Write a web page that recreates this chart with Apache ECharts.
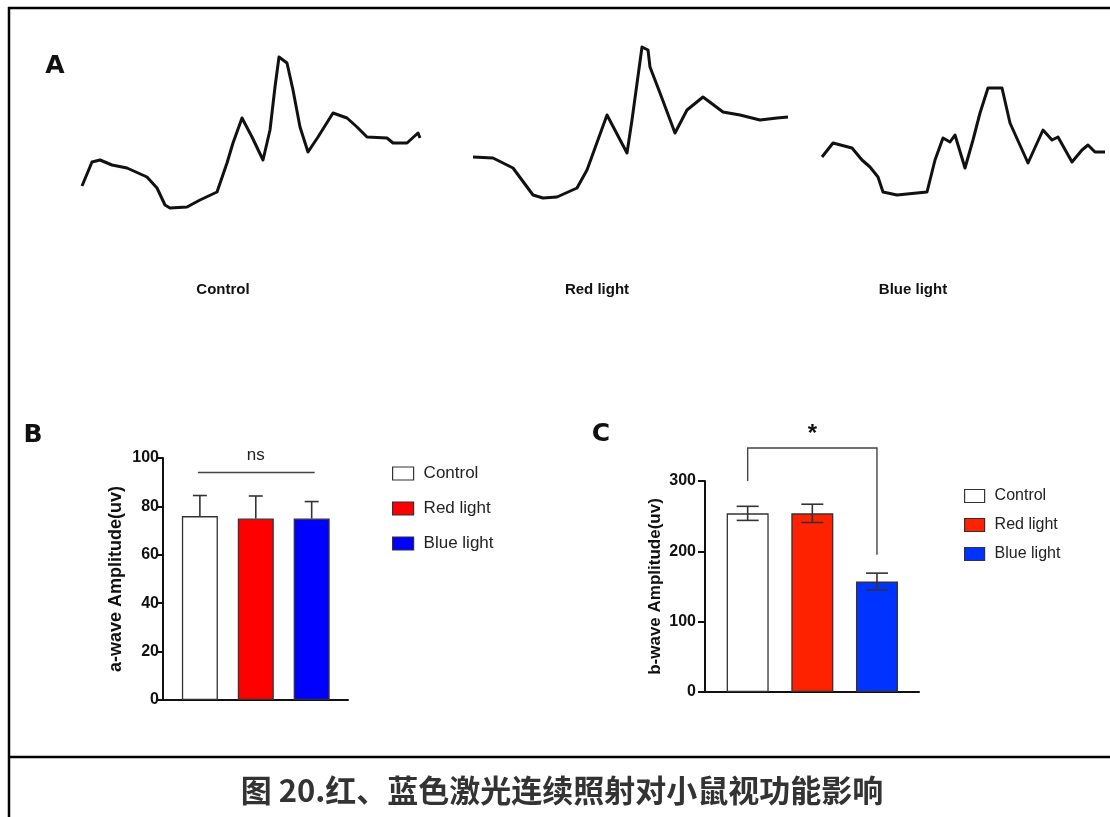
<!DOCTYPE html>
<html>
<head>
<meta charset="utf-8">
<script src="https://cdn.jsdelivr.net/npm/echarts@6/dist/echarts.min.js"></script>
<style>
  html, body { margin: 0; padding: 0; background: #fff; }
  #main { width: 1110px; height: 817px; }
</style>
</head>
<body>
<div id="main"></div>
<script>
'use strict';

// groups
var groups = ['Control', 'Red light', 'Blue light'];

// a-wave / b-wave amplitude (uv), mean and error
var aWaveMean = [76, 75, 75];
var aWaveErr = [8.5, 9.3, 7];
var bWaveMean = [254, 254, 157];
var bWaveErr = [10, 13, 12];

// ERG traces: [time, amplitude]
var controlTrace = [
  [0, 34], [1, 36], [10, 58], [18, 60], [30, 55], [45, 52], [65, 43], [75, 32],
  [83, 15], [88, 12], [105, 13], [118, 20], [135, 28], [145, 57], [151, 77],
  [160, 102], [170, 83], [181, 60], [188, 90], [193, 133], [197, 163], [205, 157],
  [211, 130], [218, 93], [226, 68], [236, 83], [251, 107], [265, 102], [275, 93],
  [285, 83], [305, 82], [311, 77], [325, 77], [336, 87], [338, 82]
];
var redTrace = [
  [2, 63], [22, 62], [42, 52], [62, 25], [72, 22], [86, 23], [106, 32], [116, 50],
  [136, 105], [156, 67], [161, 100], [171, 173], [177, 170], [179, 153], [189, 127],
  [204, 87], [216, 110], [232, 123], [252, 108], [269, 105], [289, 100], [306, 102],
  [317, 103]
];
var blueTrace = [
  [2, 63], [13, 77], [32, 72], [42, 60], [50, 53], [58, 43], [63, 28], [77, 25],
  [107, 28], [115, 60], [123, 82], [130, 78], [135, 85], [145, 52], [153, 80],
  [160, 107], [168, 132], [182, 132], [190, 97], [208, 57], [223, 90], [232, 80],
  [238, 83], [252, 58], [262, 70], [268, 75], [275, 68], [285, 68]
];

var colorsB = ['#ffffff', '#ff0000', '#0000ff'];
var colorsC = ['#ffffff', '#ff2200', '#0033ff'];

var narrow = "'Liberation Sans Narrow', 'Liberation Sans', Arial, sans-serif";
var ink = '#111';

var chartDom = document.getElementById('main');
var myChart = echarts.init(chartDom, null, { renderer: 'canvas' });

function traceAxes(n, width) {
  var xs = [], ys = [];
  for (var i = 0; i < n; i++) {
    xs.push({ type: 'value', gridIndex: i, min: 0, max: width[i], show: false });
    ys.push({ type: 'value', gridIndex: i, min: 0, max: 180, show: false });
  }
  return { xs: xs, ys: ys };
}

function traceSeries(data, idx) {
  return {
    type: 'line',
    xAxisIndex: idx,
    yAxisIndex: idx,
    data: data,
    showSymbol: false,
    silent: true,
    lineStyle: { color: ink, width: 3, join: 'round' }
  };
}

// groups sit at x = 0, 1, 2 on a plain value axis
function barSeries(idx, means, colors, width) {
  return groups.map(function (g, i) {
    return {
      type: 'bar',
      name: g,
      xAxisIndex: idx,
      yAxisIndex: idx,
      barWidth: width,
      barGap: '-100%',
      silent: true,
      data: [[i, means[i]]],
      itemStyle: { color: colors[i], borderColor: '#333', borderWidth: 1.3 }
    };
  });
}

function errorSeries(idx, means, errs, capHalf, twoSided) {
  return {
    type: 'custom',
    xAxisIndex: idx,
    yAxisIndex: idx,
    silent: true,
    clip: false,
    z: 5,
    encode: { x: 0, y: 1 },
    data: means.map(function (m, i) { return [i, m, errs[i]]; }),
    renderItem: function (params, api) {
      var i = api.value(0), m = api.value(1), e = api.value(2);
      var top = api.coord([i, m + e]);
      var bot = api.coord([i, twoSided ? m - e : m]);
      var st = { stroke: '#333', lineWidth: 1.6 };
      var children = [
        { type: 'line', shape: { x1: top[0], y1: top[1], x2: bot[0], y2: bot[1] }, style: st },
        { type: 'line', shape: { x1: top[0] - capHalf, y1: top[1], x2: top[0] + capHalf, y2: top[1] }, style: st }
      ];
      if (twoSided) {
        children.push({ type: 'line', shape: { x1: bot[0] - capHalf, y1: bot[1], x2: bot[0] + capHalf, y2: bot[1] }, style: st });
      }
      return { type: 'group', children: children };
    }
  };
}

function valueAxis(idx, max, interval, name, nameGap, nameSize, margin) {
  return {
    type: 'value',
    gridIndex: idx,
    min: 0,
    max: max,
    interval: interval,
    axisLine: { show: true, onZero: false, lineStyle: { color: ink, width: 2 } },
    axisTick: { show: true, length: 7, lineStyle: { color: ink, width: 2 } },
    axisLabel: { fontSize: 16, fontWeight: 'bold', fontFamily: narrow, color: ink, margin: margin },
    splitLine: { show: false },
    name: name,
    nameLocation: 'middle',
    nameGap: nameGap,
    nameRotate: 90,
    nameTextStyle: { fontSize: nameSize, fontWeight: 'bold', color: ink, fontFamily: "'Liberation Sans', Arial, sans-serif" }
  };
}

function groupAxis(idx) {
  return {
    type: 'value',
    gridIndex: idx,
    min: -0.66,
    max: 2.65,
    axisLine: { show: true, onZero: false, lineStyle: { color: ink, width: 2 } },
    axisTick: { show: false },
    axisLabel: { show: false },
    splitLine: { show: false }
  };
}

function legendFor(left, top, gap, size, w, h, colors) {
  return {
    left: left,
    top: top,
    padding: 0,
    orient: 'vertical',
    icon: 'rect',
    itemWidth: w,
    itemHeight: h,
    itemGap: gap,
    selectedMode: false,
    data: groups.map(function (g, i) {
      return { name: g, itemStyle: { color: colors[i], borderColor: '#333', borderWidth: 1.2 } };
    }),
    textStyle: { fontSize: size, fontFamily: narrow, color: '#222', padding: [0, 0, 0, 5] }
  };
}

var tr = traceAxes(3, [340, 320, 290]);

var xAxes = tr.xs.concat([groupAxis(3), groupAxis(4)]);
var yAxes = tr.ys.concat([
  valueAxis(3, 100, 20, 'a-wave Amplitude(uv)', 38, 18, 4),
  valueAxis(4, 300, 100, 'b-wave Amplitude(uv)', 41, 17, 9)
]);

// ns line over panel B
var nsSeries = {
  type: 'custom',
  xAxisIndex: 3,
  yAxisIndex: 3,
  silent: true,
  clip: false,
  data: [[0, 2, 94]],
  renderItem: function (params, api) {
    var a = api.coord([api.value(0), api.value(2)]);
    var b = api.coord([api.value(1), api.value(2)]);
    return {
      type: 'group',
      children: [
        { type: 'line', shape: { x1: a[0] - 2, y1: a[1], x2: b[0] + 3, y2: b[1] }, style: { stroke: '#444', lineWidth: 1.4 } },
        { type: 'text', style: { text: 'ns', x: (a[0] + b[0]) / 2, y: a[1] - 9, align: 'center', verticalAlign: 'bottom', font: '17px ' + narrow, fill: '#222' } }
      ]
    };
  }
};

// significance bracket over panel C
var starSeries = {
  type: 'custom',
  xAxisIndex: 4,
  yAxisIndex: 4,
  silent: true,
  clip: false,
  data: [[0, 2, 300, 347, 195]],
  renderItem: function (params, api) {
    var l = api.coord([api.value(0), api.value(2)]);
    var lt = api.coord([api.value(0), api.value(3)]);
    var rt = api.coord([api.value(1), api.value(3)]);
    var r = api.coord([api.value(1), api.value(4)]);
    return {
      type: 'group',
      children: [
        { type: 'polyline', shape: { points: [l, lt, rt, r] }, style: { stroke: '#444', lineWidth: 1.4, fill: null } },
        { type: 'text', style: { text: '*', x: (lt[0] + rt[0]) / 2, y: lt[1] - 2, align: 'center', verticalAlign: 'bottom', font: 'bold 24px ' + narrow, fill: '#111' } }
      ]
    };
  }
};

var series = [
  traceSeries(controlTrace, 0),
  traceSeries(redTrace, 1),
  traceSeries(blueTrace, 2)
].concat(barSeries(3, aWaveMean, colorsB, 36))
 .concat(barSeries(4, bWaveMean, colorsC, 42))
 .concat([
   errorSeries(3, aWaveMean, aWaveErr, 7, false),
   errorSeries(4, bWaveMean, bWaveErr, 11, true),
   nsSeries,
   starSeries
 ]);

var letterFont = "bold 25px 'DejaVu Sans', sans-serif";
var labelFont = "bold 15px 'Liberation Sans', Arial, sans-serif";

var option = {
  animation: false,
  backgroundColor: '#fff',
  grid: [
    { left: 82, top: 40, width: 340, height: 180 },
    { left: 471, top: 40, width: 320, height: 180 },
    { left: 820, top: 40, width: 290, height: 180 },
    { left: 163, top: 458, width: 185, height: 242 },
    { left: 705, top: 481, width: 214, height: 211 }
  ],
  xAxis: xAxes,
  yAxis: yAxes,
  legend: [
    legendFor(392, 465, 18, 17, 21, 13, colorsB),
    legendFor(964, 488, 13, 16, 20, 13, colorsC)
  ],
  graphic: [
    { type: 'line', shape: { x1: 8, y1: 8, x2: 1110, y2: 8 }, style: { stroke: '#000', lineWidth: 2.5 } },
    { type: 'line', shape: { x1: 9, y1: 7, x2: 9, y2: 817 }, style: { stroke: '#000', lineWidth: 2.5 } },
    { type: 'line', shape: { x1: 9, y1: 757, x2: 1110, y2: 757 }, style: { stroke: '#000', lineWidth: 2.5 } },
    { type: 'text', x: 55, y: 66, style: { text: 'A', font: letterFont, fill: '#111', align: 'center', verticalAlign: 'middle' } },
    { type: 'text', x: 33, y: 435, style: { text: 'B', font: letterFont, fill: '#111', align: 'center', verticalAlign: 'middle' } },
    { type: 'text', x: 601, y: 434, style: { text: 'C', font: letterFont, fill: '#111', align: 'center', verticalAlign: 'middle' } },
    { type: 'text', x: 223, y: 290, style: { text: 'Control', font: labelFont, fill: '#111', align: 'center', verticalAlign: 'middle' } },
    { type: 'text', x: 597, y: 290, style: { text: 'Red light', font: labelFont, fill: '#111', align: 'center', verticalAlign: 'middle' } },
    { type: 'text', x: 913, y: 290, style: { text: 'Blue light', font: labelFont, fill: '#111', align: 'center', verticalAlign: 'middle' } },
    { type: 'text', x: 562, y: 790, style: { text: '图 20.红、蓝色激光连续照射对小鼠视功能影响', font: "bold 31px 'Noto Sans CJK SC', serif", fill: '#333', align: 'center', verticalAlign: 'middle' } }
  ],
  series: series
};

myChart.setOption(option);
</script>
</body>
</html>
